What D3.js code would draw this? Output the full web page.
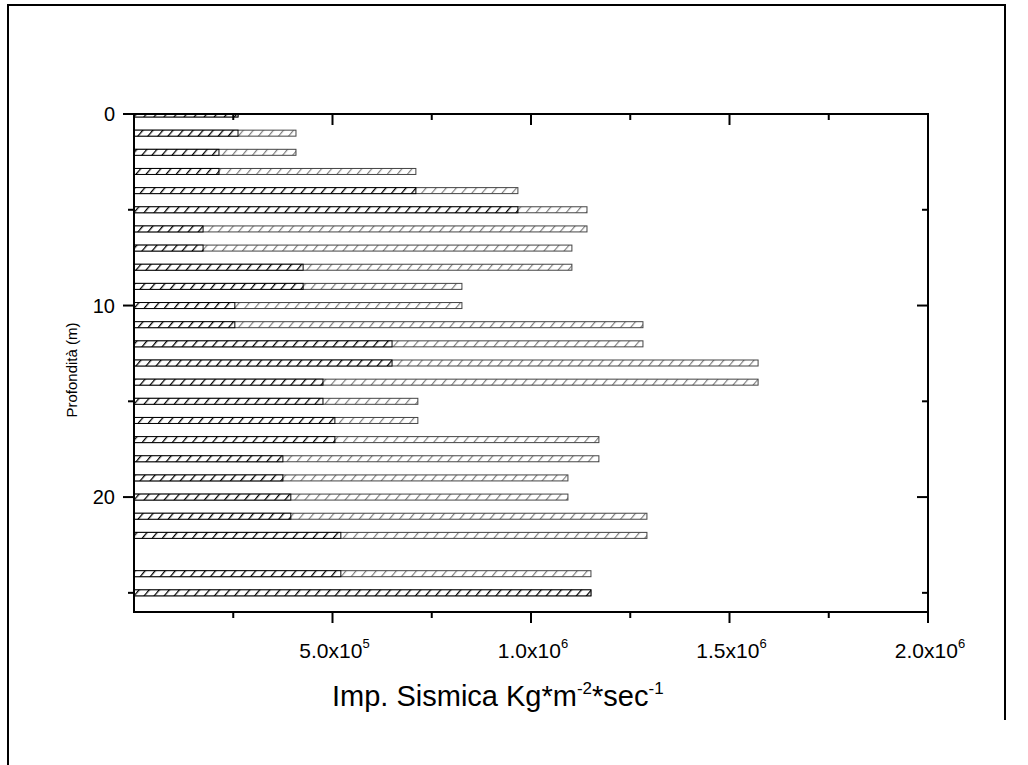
<!DOCTYPE html>
<html lang="it">
<head>
<meta charset="UTF-8">
<title>Imp. Sismica</title>
<script src="https://d3js.org/d3.v7.min.js"></script>
<style>
    body { margin: 0; background: #fff; }
    svg { font-family: "Liberation Sans", Arial, sans-serif; }
    .axis-line { stroke: #000; stroke-width: 2; fill: none; }
    .tick { stroke: #000; stroke-width: 2; }
</style>
</head>
<body>
<svg width="1028" height="765"></svg>
<script>
// depth of each bar (m) - there is no bar at 23
const depths = [0, 1, 2, 3, 4, 5, 6, 7, 8, 9, 10, 11, 12, 13, 14, 15, 16, 17, 18, 19, 20, 21, 22, 24, 25];
// front series (black hatch)
const frontVals = [262e3, 262e3, 214e3, 214e3, 710e3, 967e3, 174e3, 174e3, 426e3, 426e3, 254e3, 254e3,
    650e3, 650e3, 476e3, 476e3, 506e3, 506e3, 375e3, 375e3, 395e3, 395e3, 521e3, 521e3, 1151e3];
// back series (grey hatch)
const backVals = [262e3, 408e3, 408e3, 710e3, 967e3, 1141e3, 1141e3, 1103e3, 1103e3, 826e3, 826e3, 1282e3,
    1282e3, 1572e3, 1572e3, 715e3, 715e3, 1171e3, 1171e3, 1093e3, 1093e3, 1292e3, 1292e3, 1151e3, 1151e3];
const xMajor = [5e5, 1e6, 1.5e6, 2e6];
const xLabels = [["5.0x10", "5"], ["1.0x10", "6"], ["1.5x10", "6"], ["2.0x10", "6"]];
const xMinor = [2.5e5, 7.5e5, 1.25e6, 1.75e6];
const yMajor = [0, 10, 20];
const yMinor = [5, 15, 25];

const svg = d3.select('svg');
const pL = 134, pR = 928, pT = 114, pB = 612;

const x = d3.scaleLinear().domain([0, 2e6]).range([pL, pR]);
const y = d3.scaleLinear().domain([0, 26]).range([pT, pB]);
const barH = 6;

// outer frame
svg.append('path')
    .attr('d', 'M8,765 L8,5 L1005,5 L1005,720')
    .attr('fill', 'none').attr('stroke', '#000').attr('stroke-width', 2);

// hatch patterns
const defs = svg.append('defs');
function hatch(id, color, w) {
    const p = defs.append('pattern')
        .attr('id', id)
        .attr('patternUnits', 'userSpaceOnUse')
        .attr('width', 7.7).attr('height', 10)
        .attr('patternTransform', 'rotate(40)');
    p.append('rect').attr('width', 7.7).attr('height', 10).attr('fill', '#fff');
    p.append('line').attr('x1', 0.6).attr('y1', 0).attr('x2', 0.6).attr('y2', 10)
        .attr('stroke', color).attr('stroke-width', w);
}
hatch('hBack', '#777', 1.1);
hatch('hFront', '#000', 1.3);

defs.append('clipPath').attr('id', 'plotClip')
    .append('rect').attr('x', pL).attr('y', pT).attr('width', pR - pL).attr('height', pB - pT);

const g = svg.append('g').attr('clip-path', 'url(#plotClip)');

// back bars
g.selectAll('.back')
    .data(depths)
    .enter().append('rect')
    .attr('class', 'back')
    .attr('x', x(0))
    .attr('y', d => y(d) - barH / 2)
    .attr('width', (d, i) => x(backVals[i]) - x(0))
    .attr('height', barH)
    .attr('fill', 'url(#hBack)')
    .attr('stroke', '#444').attr('stroke-width', 1);

// front bars
g.selectAll('.front')
    .data(depths)
    .enter().append('rect')
    .attr('class', 'front')
    .attr('x', x(0))
    .attr('y', d => y(d) - barH / 2)
    .attr('width', (d, i) => x(frontVals[i]) - x(0))
    .attr('height', barH)
    .attr('fill', 'url(#hFront)')
    .attr('stroke', '#000').attr('stroke-width', 1);

// plot frame
svg.append('rect').attr('class', 'axis-line')
    .attr('x', pL).attr('y', pT).attr('width', pR - pL).attr('height', pB - pT);

// x ticks (bottom outward, top inward)
const xt = svg.append('g');
xMajor.forEach(v => {
    xt.append('line').attr('class', 'tick').attr('x1', x(v)).attr('x2', x(v)).attr('y1', pB).attr('y2', pB + 11);
    xt.append('line').attr('class', 'tick').attr('x1', x(v)).attr('x2', x(v)).attr('y1', pT).attr('y2', pT + 11);
});
xMinor.forEach(v => {
    xt.append('line').attr('class', 'tick').attr('x1', x(v)).attr('x2', x(v)).attr('y1', pB).attr('y2', pB + 6);
    xt.append('line').attr('class', 'tick').attr('x1', x(v)).attr('x2', x(v)).attr('y1', pT).attr('y2', pT + 6);
});
xMajor.forEach((v, i) => {
    const t = xt.append('text')
        .attr('x', x(v) + 2).attr('y', 658)
        .attr('text-anchor', 'middle')
        .attr('font-size', 21);
    t.append('tspan').text(xLabels[i][0]);
    t.append('tspan').attr('dy', -10).attr('font-size', 13).text(xLabels[i][1]);
});

// y ticks (left outward, right inward)
const yt = svg.append('g');
yMajor.forEach(v => {
    yt.append('line').attr('class', 'tick').attr('x1', pL - 11).attr('x2', pL).attr('y1', y(v)).attr('y2', y(v));
    yt.append('line').attr('class', 'tick').attr('x1', pR - 11).attr('x2', pR).attr('y1', y(v)).attr('y2', y(v));
    yt.append('text')
        .attr('x', 115).attr('y', y(v) + 7)
        .attr('text-anchor', 'end')
        .attr('font-size', 20)
        .text(v);
});
yMinor.forEach(v => {
    yt.append('line').attr('class', 'tick').attr('x1', pL - 6).attr('x2', pL).attr('y1', y(v)).attr('y2', y(v));
    yt.append('line').attr('class', 'tick').attr('x1', pR - 6).attr('x2', pR).attr('y1', y(v)).attr('y2', y(v));
});

// axis titles
const xt2 = svg.append('text')
    .attr('x', 332).attr('y', 706)
    .attr('font-size', 29);
xt2.append('tspan').text('Imp. Sismica Kg*m');
xt2.append('tspan').attr('dy', -12).attr('font-size', 17).text('-2');
xt2.append('tspan').attr('dy', 12).text('*sec');
xt2.append('tspan').attr('dy', -12).attr('font-size', 17).text('-1');

svg.append('text')
    .attr('transform', 'translate(77,370) rotate(-90)')
    .attr('text-anchor', 'middle')
    .attr('font-size', 15)
    .text('Profondità (m)');
</script>
</body>
</html>
